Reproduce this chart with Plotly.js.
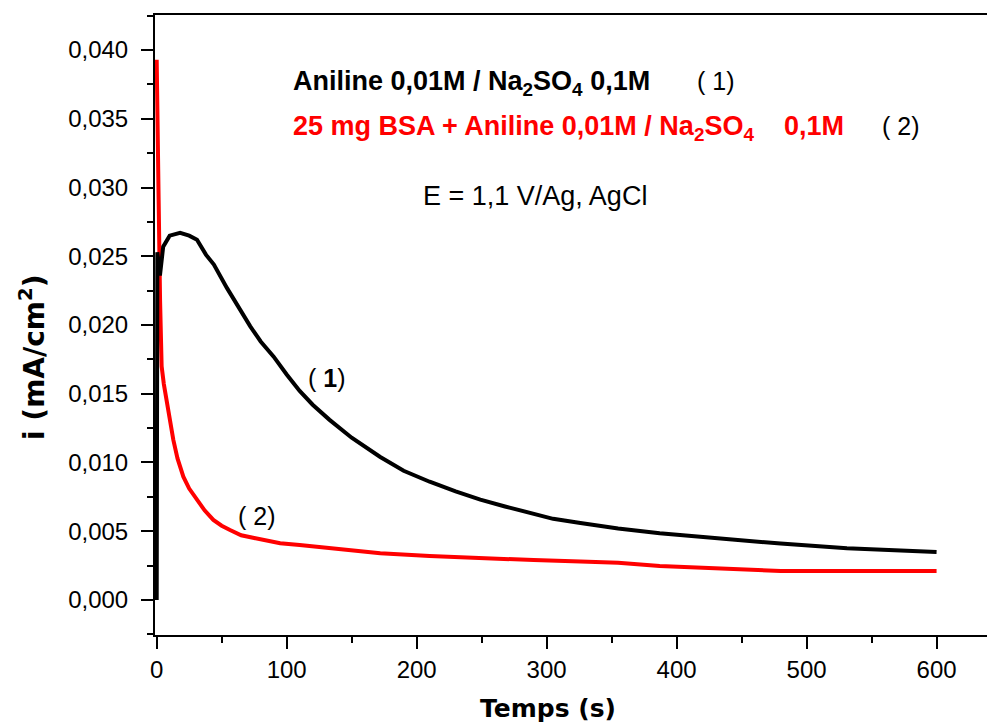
<!DOCTYPE html>
<html>
<head>
<meta charset="utf-8">
<script src="https://cdn.plot.ly/plotly-3.0.1.min.js"></script>
<style>html,body{margin:0;padding:0;background:#fff;overflow:hidden;}</style>
</head>
<body>
<div id="chart" style="width:987px;height:724px;"></div>
<script>
// Curve (1): Aniline 0,01M / Na2SO4 0,1M
const time1 = [0, 0.5, 2.5, 5, 10, 18, 25, 31, 38, 44, 54, 62, 72, 80, 90, 100, 110, 120, 133, 150, 172, 190, 210, 230, 249, 268, 287, 305, 326, 355, 387, 430, 480, 531, 565, 600];
const current1 = [0, 0.0253, 0.0236, 0.0257, 0.0265, 0.0267, 0.0265, 0.0262, 0.0251, 0.0244, 0.0227, 0.0214, 0.0199, 0.0188, 0.0177, 0.0164, 0.0152, 0.0142, 0.0131, 0.0118, 0.0104, 0.0094, 0.0086, 0.0079, 0.0073, 0.0068, 0.0063, 0.0059, 0.0056, 0.0052, 0.00485, 0.0045, 0.0041, 0.00376, 0.0036, 0.00349];
// Curve (2): 25 mg BSA + Aniline 0,01M / Na2SO4 0,1M
const time2 = [0, 1, 1.5, 2.6, 3.8, 5.5, 7.7, 10, 12.8, 16, 20.5, 25, 30.8, 37, 43.6, 50, 56.4, 65, 75, 82, 95, 110, 133, 150, 172, 210, 249, 290, 326, 355, 387, 430, 480, 540, 600];
const current2 = [0.0393, 0.0342, 0.0291, 0.0218, 0.0170, 0.0157, 0.01455, 0.0130, 0.01164, 0.0103, 0.00897, 0.0081, 0.00727, 0.0065, 0.00582, 0.0054, 0.00509, 0.0047, 0.0045, 0.00436, 0.00412, 0.0040, 0.00376, 0.0036, 0.0034, 0.0032, 0.00303, 0.0029, 0.00279, 0.0027, 0.00247, 0.0023, 0.00211, 0.0021, 0.00211];

const xTickVals = [0, 100, 200, 300, 400, 500, 600];
const yTickVals = [0, 0.005, 0.010, 0.015, 0.020, 0.025, 0.030, 0.035, 0.040];

const W = 987, H = 724, ML = 155, MR = 0, MT = 15, MB = 89;
const px = v => (v - ML) / (W - ML - MR);
const py = v => (H - MB - v) / (H - MT - MB);

const ARIAL = 'Liberation Sans, Arial, sans-serif';
const DEJAVU = 'DejaVu Sans, sans-serif';

const traces = [
  {x: time2, y: current2, type: 'scatter', mode: 'lines', name: '(2)',
   line: {color: '#ff0000', width: 4}},
  {x: time1, y: current1, type: 'scatter', mode: 'lines', name: '(1)',
   line: {color: '#000000', width: 4}}
];

function ann(text, x, y, size, color, family, extra) {
  return Object.assign({text: text, xref: 'paper', yref: 'paper', x: px(x), y: py(y),
    xanchor: 'center', yanchor: 'middle',
    showarrow: false, font: {size: size, color: color, family: family}}, extra || {});
}

const layout = {
  width: W, height: H,
  margin: {l: ML, r: MR, t: MT, b: MB, pad: 0},
  paper_bgcolor: '#ffffff', plot_bgcolor: '#ffffff',
  showlegend: false,
  separators: ', ',
  xaxis: {
    range: [-1.3, 638.8], tickvals: xTickVals, ticks: 'outside', ticklen: 12, tickwidth: 2,
    tickcolor: '#000', showline: true, linecolor: '#000', linewidth: 2, mirror: true,
    showgrid: false, zeroline: false,
    tickfont: {family: ARIAL, size: 24, color: '#000'},
    minor: {dtick: 50, ticks: 'outside', ticklen: 6, tickwidth: 2, tickcolor: '#000', showgrid: false}
  },
  yaxis: {
    range: [-0.00255, 0.04255], tickvals: yTickVals, tickformat: '.3f', ticks: 'outside', ticklen: 12, tickwidth: 2,
    tickcolor: '#000', showline: true, linecolor: '#000', linewidth: 2, mirror: false,
    showgrid: false, zeroline: false, ticklabelstandoff: 8,
    tickfont: {family: ARIAL, size: 24, color: '#000'},
    minor: {dtick: 0.0025, ticks: 'outside', ticklen: 6, tickwidth: 2, tickcolor: '#000', showgrid: false}
  },
  annotations: [
    ann('<b>Temps (s)</b>', 547.5, 708, 25, '#000', DEJAVU),
    ann('<b>i (mA/cm<sup>2</sup>)</b>', 32, 358, 28, '#000', DEJAVU, {textangle: -90}),
    ann('<b>Aniline 0,01M / Na<sub>2</sub>SO<sub>4</sub> 0,1M</b>', 291, 83, 27, '#000', ARIAL, {xanchor: 'left'}),
    ann('( 1)', 695, 81, 25, '#000', ARIAL, {xanchor: 'left'}),
    ann('<b>25 mg BSA + Aniline 0,01M / Na<sub>2</sub>SO<sub>4</sub>\u00a0\u00a0\u00a0 0,1M</b>', 291, 128, 27, '#ff0000', ARIAL, {xanchor: 'left'}),
    ann('( 2)', 880, 126, 25, '#000', ARIAL, {xanchor: 'left'}),
    ann('E = 1,1 V/Ag, AgCl', 421, 196, 27, '#000', ARIAL, {xanchor: 'left'}),
    ann('( <b>1</b>)', 326.5, 378, 25, '#000', ARIAL),
    ann('( 2)', 256.5, 516, 25, '#000', ARIAL)
  ]
};

Plotly.newPlot('chart', traces, layout, {displayModeBar: false, staticPlot: true});
</script>
</body>
</html>
